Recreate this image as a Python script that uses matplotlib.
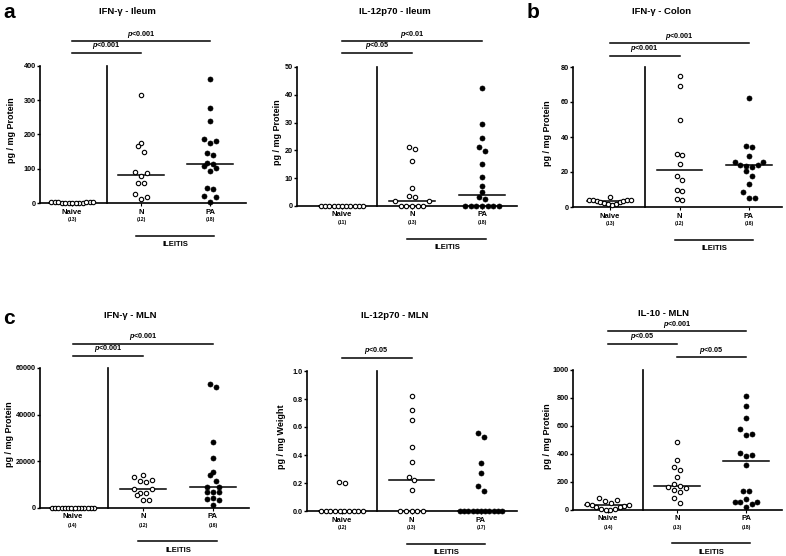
import numpy as np
import matplotlib.pyplot as plt

plt.rcParams['font.family'] = ['Liberation Sans', 'DejaVu Sans']
plt.rcParams['font.weight'] = 'bold'
plt.rcParams['mathtext.fontset'] = 'custom'
plt.rcParams['mathtext.it'] = 'Liberation Sans:italic:bold'
plt.rcParams['mathtext.rm'] = 'Liberation Sans:bold'

W, H = 786, 556
groups = ["Naive", "N", "PA"]

# IFN-g - Ileum
ifn_ileum_naive = [3, 2, 2, 1, 1, 0, 0, 0, 0, 1, 2, 2, 3]
ifn_ileum_n = [315, 176, 166, 150, 90, 87, 79, 57, 57, 26, 17, 11]
ifn_ileum_pa = [361, 278, 239, 187, 180, 175, 147, 140, 116, 113, 109, 102, 93, 43, 40, 20, 18, 4]
# IL-12p70 - Ileum
il12_ileum_naive = [0] * 11
il12_ileum_n = [21.4, 20.5, 16.1, 6.3, 3.5, 3.2, 1.9, 1.9, 0, 0, 0, 0, 0]
il12_ileum_pa = [42.5, 29.5, 24.3, 21.4, 19.9, 15.2, 10.4, 7.3, 4.9, 3.2, 2.4, 0, 0, 0, 0, 0, 0, 0]
# IFN-g - Colon
ifn_colon_naive = [4.2, 4.0, 3.6, 3.0, 2.4, 2.0, 6.0, 1.2, 1.8, 2.6, 3.4, 3.8, 4.2]
ifn_colon_n = [75, 69.3, 49.9, 30.3, 29.5, 24.6, 17.5, 15.6, 9.9, 9.3, 4.8, 4.2]
ifn_colon_pa = [62.3, 34.6, 34.4, 29.0, 26.0, 25.8, 24.2, 23.9, 23.7, 22.8, 20.5, 17.5, 13.3, 8.7, 5.4, 5.3]
# IFN-g - MLN
ifn_mln_naive = [0] * 14
ifn_mln_n = [14040, 13320, 11890, 11460, 11170, 8170, 8170, 6450, 6450, 5440, 3300, 3300]
ifn_mln_pa = [53000, 52000, 28400, 21500, 15300, 14300, 11700, 8900, 8900, 7000, 6700, 6700,
              4100, 3900, 3400, 1300]
# IL-12p70 - MLN
il12_mln_naive = [0.21, 0.20, 0, 0, 0, 0, 0, 0, 0, 0, 0, 0]
il12_mln_n = [0.82, 0.72, 0.65, 0.46, 0.35, 0.24, 0.22, 0.15, 0, 0, 0, 0, 0]
il12_mln_pa = [0.56, 0.53, 0.34, 0.27, 0.18, 0.14] + [0] * 11
# IL-10 - MLN
il10_mln_naive = [38, 30, 20, 10, 83, 5, 65, 0, 48, 2, 68, 22, 35, 40]
il10_mln_n = [485, 354, 309, 285, 238, 183, 175, 165, 160, 140, 128, 88, 52]
il10_mln_pa = [815, 744, 656, 580, 540, 538, 406, 390, 385, 318, 138, 135, 76, 60, 57, 55, 40, 21]

panels = [
    dict(title="IFN-γ - Ileum", letter="a", data=[ifn_ileum_naive, ifn_ileum_n, ifn_ileum_pa],
         ylabel="pg / mg Protein", ymax=400, ystep=100, box=(40, 246, 66, 203), x0=72, sp=69,
         title_xy=(127, 12), letter_xy=(9, 12), ylab_x=12,
         pvals=[(0, 1, 53, "<0.001"), (0, 2, 41, "<0.001")]),
    dict(title="IL-12p70 - Ileum", letter=None, data=[il12_ileum_naive, il12_ileum_n, il12_ileum_pa],
         ylabel="pg / mg Protein", ymax=50, ystep=10, box=(297, 517, 67, 206), x0=342, sp=70,
         title_xy=(395, 12), letter_xy=None, ylab_x=277,
         pvals=[(0, 1, 53, "<0.05"), (0, 2, 41, "<0.01")]),
    dict(title="IFN-γ - Colon", letter="b", data=[ifn_colon_naive, ifn_colon_n, ifn_colon_pa],
         ylabel="pg / mg Protein", ymax=80, ystep=20, box=(573, 782, 67, 207), x0=610, sp=69.5,
         title_xy=(662, 12), letter_xy=(533, 12), ylab_x=547,
         pvals=[(0, 1, 56, "<0.001"), (0, 2, 43, "<0.001")]),
    dict(title="IFN-γ - MLN", letter="c", data=[ifn_mln_naive, ifn_mln_n, ifn_mln_pa],
         ylabel="pg / mg Protein", ymax=60000, ystep=20000, box=(40, 249, 368, 508), x0=73, sp=70,
         title_xy=(130, 316), letter_xy=(9, 318), ylab_x=10,
         pvals=[(0, 1, 356, "<0.001"), (0, 2, 344, "<0.001")]),
    dict(title="IL-12p70 - MLN", letter=None, data=[il12_mln_naive, il12_mln_n, il12_mln_pa],
         ylabel="pg / mg Weight", ymax=1.0, ystep=0.2, box=(307, 517, 371, 511), x0=342, sp=69.5,
         title_xy=(395, 315), letter_xy=None, ylab_x=282,
         pvals=[(0, 1, 358, "<0.05")]),
    dict(title="IL-10 - MLN", letter=None, data=[il10_mln_naive, il10_mln_n, il10_mln_pa],
         ylabel="pg / mg Protein", ymax=1000, ystep=200, box=(573, 782, 370, 510), x0=608, sp=69,
         title_xy=(664, 314), letter_xy=None, ylab_x=547,
         pvals=[(0, 1, 344, "<0.05"), (0, 2, 331, "<0.001"), (1, 2, 357, "<0.05")]),
]


def row_scatter(vals, ppu, row_h=6.5, step=5.7, max_w=42.0):
    # GraphPad-like layout: points close in y share a row, spread side by side (pixels)
    vals = np.asarray(vals, float)
    order = np.argsort(vals, kind="stable")
    offs = np.zeros(len(vals))
    rows, cur = [], []
    for i in order:
        if cur and (vals[i] - vals[cur[0]]) * ppu > row_h:
            rows.append(cur)
            cur = []
        cur.append(i)
    rows.append(cur)
    for row in rows:
        n = len(row)
        if n == 1:
            continue
        s = min(step, max_w / (n - 1))
        slots = (np.arange(n) - (n - 1) / 2) * s
        # highest values go to the outside, lowest to the middle
        seq = []
        lo, hi = 0, n - 1
        while lo <= hi:
            seq.append(slots[lo])
            if hi != lo:
                seq.append(slots[hi])
            lo += 1
            hi -= 1
        row_desc = sorted(row, key=lambda k: -vals[k])
        for k, pos in zip(row_desc, seq):
            offs[k] = pos
    return offs


fig = plt.figure(figsize=(W / 100, H / 100), dpi=100)

for p in panels:
    l, r, t, b = p['box']
    ax = fig.add_axes([l / W, 1 - b / H, (r - l) / W, (b - t) / H])
    x0, sp, ymax = p['x0'], p['sp'], p['ymax']
    ax.set_xlim((l - x0) / sp, (r - x0) / sp)
    ax.set_ylim(0, ymax)
    ax.patch.set_visible(False)
    for s in ['top', 'right']:
        ax.spines[s].set_visible(False)
    ax.spines['left'].set_bounds(0, ymax)
    for s in ['left', 'bottom']:
        ax.spines[s].set_linewidth(1.2)
    ay = lambda ypx: (b - ypx) / (b - t)
    xt = ax.get_xaxis_transform()

    yt = np.arange(0, ymax + ymax * 1e-6, p['ystep'])
    ax.set_yticks(yt)
    if ymax == 1.0:
        ax.set_yticklabels([f"{v:.1f}" for v in yt])
    else:
        ax.set_yticklabels([f"{v:g}" for v in yt])
    ax.tick_params(axis='y', length=2.5, width=1, pad=0.5, labelsize=5.2)
    ax.set_xticks([0, 1, 2])
    ax.set_xticklabels([])
    ax.tick_params(axis='x', length=2, width=0.8)

    ax.plot([0.5, 0.5], [0, ymax], color='k', lw=1.2, clip_on=False)

    ppu = (b - t) / ymax
    for gi, vals in enumerate(p['data']):
        offs = row_scatter(vals, ppu)
        xs = gi + offs / sp
        if gi == 2:
            ax.scatter(xs, vals, s=13, c='k', edgecolors='k', linewidths=0.5, zorder=3, clip_on=False)
        else:
            ax.scatter(xs, vals, s=10, facecolors='white', edgecolors='k', linewidths=0.8,
                       zorder=3, clip_on=False)
        med = np.median(vals)
        ax.plot([gi - 0.33, gi + 0.33], [med, med], color='k', lw=1.1, zorder=2, clip_on=False)
        ax.text(gi, ay(b + 9), groups[gi], transform=xt, ha='center', va='center', fontsize=5.5)
        ax.text(gi, ay(b + 17), f"({len(vals)})", transform=xt, ha='center', va='center', fontsize=3.7)

    ax.plot([0.93, 2.06], [ay(b + 33)] * 2, transform=xt, color='k', lw=1.1, clip_on=False)
    ax.text(1.5, ay(b + 42), "ILEITIS", transform=xt, ha='center', va='center', fontsize=5.5)

    for i, j, ypx, lab in p['pvals']:
        ax.plot([i, j], [ay(ypx)] * 2, transform=xt, color='k', lw=1.1, clip_on=False)
        ax.text((i + j) / 2, ay(ypx - 1.5), r"$\mathit{p}$" + lab, transform=xt,
                ha='center', va='bottom', fontsize=5.2)

    fig.text(p['title_xy'][0] / W, 1 - p['title_xy'][1] / H, p['title'], ha='center', va='center',
             fontsize=6.8)
    if p['letter']:
        fig.text(p['letter_xy'][0] / W, 1 - p['letter_xy'][1] / H, p['letter'], ha='center',
                 va='center', fontsize=15)
    fig.text(p['ylab_x'] / W, 1 - ((t + b) / 2 - 4) / H, p['ylabel'], rotation=90,
             ha='center', va='center', fontsize=6.5)

fig.savefig("out.png", dpi=100)
